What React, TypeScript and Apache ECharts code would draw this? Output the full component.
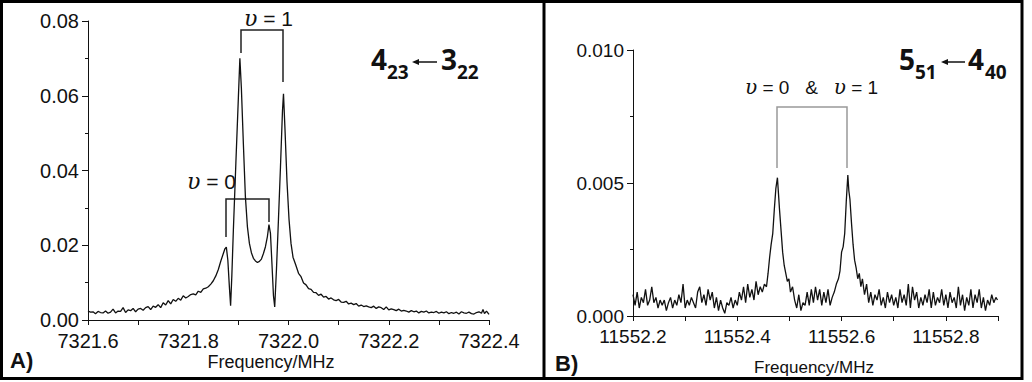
import React, { useEffect, useRef } from "react";
import * as echarts from "echarts";

// Panel A: 4(23) <- 3(22), intensity vs frequency (MHz)
const spectrumA: [number, number][] = [
  [7321.600, 0.0024], [7321.605, 0.0021], [7321.610, 0.0022], [7321.615, 0.0017], [7321.620, 0.0023],
  [7321.625, 0.0020], [7321.630, 0.0019], [7321.635, 0.0024], [7321.640, 0.0018], [7321.645, 0.0021],
  [7321.650, 0.0029], [7321.655, 0.0019], [7321.660, 0.0024], [7321.665, 0.0023], [7321.670, 0.0033],
  [7321.675, 0.0020], [7321.680, 0.0027], [7321.685, 0.0025], [7321.690, 0.0031], [7321.695, 0.0022],
  [7321.700, 0.0029], [7321.705, 0.0031], [7321.710, 0.0026], [7321.715, 0.0033], [7321.720, 0.0036],
  [7321.725, 0.0028], [7321.730, 0.0037], [7321.735, 0.0034], [7321.740, 0.0041], [7321.745, 0.0033],
  [7321.750, 0.0046], [7321.755, 0.0040], [7321.760, 0.0052], [7321.765, 0.0043], [7321.770, 0.0055],
  [7321.775, 0.0050], [7321.780, 0.0058], [7321.785, 0.0053], [7321.790, 0.0065], [7321.795, 0.0059],
  [7321.800, 0.0063], [7321.805, 0.0068], [7321.810, 0.0070], [7321.815, 0.0067], [7321.820, 0.0077],
  [7321.825, 0.0074], [7321.830, 0.0083], [7321.835, 0.0085], [7321.840, 0.0089], [7321.845, 0.0096],
  [7321.850, 0.0105], [7321.855, 0.0118], [7321.860, 0.0135], [7321.865, 0.0158], [7321.870, 0.0178],
  [7321.873, 0.0190], [7321.876, 0.0195], [7321.879, 0.0160], [7321.882, 0.0090], [7321.8845, 0.0038],
  [7321.887, 0.0120], [7321.890, 0.0240], [7321.895, 0.0420], [7321.900, 0.0595], [7321.903, 0.0700],
  [7321.906, 0.0620], [7321.910, 0.0470], [7321.914, 0.0330], [7321.918, 0.0250], [7321.922, 0.0205],
  [7321.926, 0.0180], [7321.930, 0.0165], [7321.934, 0.0158], [7321.938, 0.0154], [7321.942, 0.0157],
  [7321.946, 0.0163], [7321.950, 0.0178], [7321.954, 0.0196], [7321.958, 0.0224], [7321.961, 0.0255],
  [7321.964, 0.0232], [7321.967, 0.0150], [7321.970, 0.0065], [7321.9725, 0.0035], [7321.976, 0.0136],
  [7321.980, 0.0270], [7321.984, 0.0410], [7321.988, 0.0560], [7321.990, 0.0605], [7321.993, 0.0510],
  [7321.997, 0.0370], [7322.001, 0.0270], [7322.005, 0.0205], [7322.009, 0.0168], [7322.014, 0.0149],
  [7322.020, 0.0125], [7322.025, 0.0116], [7322.030, 0.0099], [7322.035, 0.0094], [7322.040, 0.0084],
  [7322.045, 0.0082], [7322.050, 0.0074], [7322.055, 0.0073], [7322.060, 0.0066], [7322.065, 0.0069],
  [7322.070, 0.0061], [7322.075, 0.0063], [7322.080, 0.0056], [7322.085, 0.0059], [7322.090, 0.0054],
  [7322.095, 0.0052], [7322.100, 0.0055], [7322.105, 0.0048], [7322.110, 0.0047], [7322.115, 0.0050],
  [7322.120, 0.0043], [7322.125, 0.0045], [7322.130, 0.0041], [7322.135, 0.0044], [7322.140, 0.0037],
  [7322.145, 0.0040], [7322.150, 0.0036], [7322.155, 0.0038], [7322.160, 0.0035], [7322.165, 0.0033],
  [7322.170, 0.0037], [7322.175, 0.0031], [7322.180, 0.0035], [7322.185, 0.0033], [7322.190, 0.0028],
  [7322.195, 0.0035], [7322.200, 0.0027], [7322.205, 0.0030], [7322.210, 0.0028], [7322.215, 0.0025],
  [7322.220, 0.0029], [7322.225, 0.0024], [7322.230, 0.0026], [7322.235, 0.0024], [7322.240, 0.0021],
  [7322.245, 0.0025], [7322.250, 0.0022], [7322.255, 0.0024], [7322.260, 0.0019], [7322.265, 0.0023],
  [7322.270, 0.0021], [7322.275, 0.0024], [7322.280, 0.0019], [7322.285, 0.0021], [7322.290, 0.0020],
  [7322.295, 0.0023], [7322.300, 0.0018], [7322.305, 0.0021], [7322.310, 0.0019], [7322.315, 0.0022],
  [7322.320, 0.0017], [7322.325, 0.0020], [7322.330, 0.0018], [7322.335, 0.0021], [7322.340, 0.0016],
  [7322.345, 0.0022], [7322.350, 0.0019], [7322.355, 0.0018], [7322.360, 0.0021], [7322.365, 0.0017],
  [7322.370, 0.0016], [7322.375, 0.0020], [7322.380, 0.0022], [7322.385, 0.0018], [7322.388, 0.0028],
  [7322.391, 0.0017], [7322.395, 0.0024], [7322.400, 0.0015],
];

// Panel B: 5(51) <- 4(40)
const spectrumB: [number, number][] = [
  [11552.200, 0.0008], [11552.204, 0.0004], [11552.208, 0.0009], [11552.212, 0.0003], [11552.216, 0.0007],
  [11552.220, 0.0005], [11552.224, 0.0010], [11552.228, 0.0004], [11552.232, 0.0006], [11552.236, 0.0011],
  [11552.240, 0.0005], [11552.244, 0.0007], [11552.248, 0.0003], [11552.252, 0.0006], [11552.256, 0.0004],
  [11552.260, 0.0006], [11552.264, 0.0002], [11552.268, 0.0005], [11552.272, 0.0007], [11552.276, 0.0003],
  [11552.280, 0.0006], [11552.284, 0.0004], [11552.288, 0.0008], [11552.292, 0.0005], [11552.296, 0.0012],
  [11552.300, 0.0003], [11552.304, 0.0006], [11552.308, 0.0004], [11552.312, 0.0007], [11552.316, 0.0005],
  [11552.320, 0.0003], [11552.324, 0.0009], [11552.328, 0.0011], [11552.332, 0.0005], [11552.336, 0.0008],
  [11552.340, 0.0004], [11552.344, 0.0010], [11552.348, 0.0006], [11552.352, 0.0009], [11552.356, 0.0003],
  [11552.360, 0.0007], [11552.364, 0.0002], [11552.368, 0.0006], [11552.372, 0.0003], [11552.376, 0.0001],
  [11552.380, 0.0005], [11552.384, 0.0004], [11552.388, 0.0007], [11552.392, 0.0003], [11552.396, 0.0006],
  [11552.400, 0.0004], [11552.404, 0.0009], [11552.408, 0.0006], [11552.412, 0.0011], [11552.416, 0.0005],
  [11552.420, 0.0012], [11552.424, 0.0007], [11552.428, 0.0010], [11552.432, 0.0006], [11552.436, 0.0013],
  [11552.440, 0.0008], [11552.444, 0.0011], [11552.448, 0.0009], [11552.452, 0.0012], [11552.456, 0.0011],
  [11552.459, 0.0016], [11552.462, 0.0022], [11552.465, 0.0027], [11552.468, 0.0031], [11552.471, 0.0040],
  [11552.474, 0.0048], [11552.477, 0.0052], [11552.479, 0.0046], [11552.481, 0.0040], [11552.484, 0.0032],
  [11552.487, 0.0024], [11552.490, 0.0019], [11552.493, 0.0016], [11552.496, 0.0013], [11552.499, 0.0014],
  [11552.502, 0.0009], [11552.506, 0.0011], [11552.510, 0.0006], [11552.514, 0.0003], [11552.518, 0.0008],
  [11552.522, 0.0002], [11552.526, 0.0005], [11552.530, 0.0004], [11552.534, 0.0009], [11552.538, 0.0004],
  [11552.542, 0.0010], [11552.546, 0.0005], [11552.550, 0.0011], [11552.554, 0.0006], [11552.558, 0.0010],
  [11552.562, 0.0004], [11552.566, 0.0009], [11552.570, 0.0005], [11552.574, 0.0010], [11552.578, 0.0004],
  [11552.582, 0.0007], [11552.586, 0.0009], [11552.590, 0.0012], [11552.594, 0.0014], [11552.597, 0.0017],
  [11552.600, 0.0024], [11552.603, 0.0026], [11552.606, 0.0031], [11552.609, 0.0043], [11552.612, 0.0053],
  [11552.614, 0.0047], [11552.616, 0.0044], [11552.619, 0.0035], [11552.622, 0.0027], [11552.625, 0.0021],
  [11552.628, 0.0018], [11552.631, 0.0014], [11552.634, 0.0016], [11552.637, 0.0011], [11552.640, 0.0014],
  [11552.644, 0.0008], [11552.648, 0.0012], [11552.652, 0.0005], [11552.656, 0.0009], [11552.660, 0.0004],
  [11552.664, 0.0008], [11552.668, 0.0006], [11552.672, 0.0010], [11552.676, 0.0004], [11552.680, 0.0007],
  [11552.684, 0.0003], [11552.688, 0.0009], [11552.692, 0.0005], [11552.696, 0.0008], [11552.700, 0.0004],
  [11552.704, 0.0007], [11552.708, 0.0003], [11552.712, 0.0010], [11552.716, 0.0005], [11552.720, 0.0008],
  [11552.724, 0.0004], [11552.728, 0.0012], [11552.732, 0.0003], [11552.736, 0.0011], [11552.740, 0.0006],
  [11552.744, 0.0009], [11552.748, 0.0003], [11552.752, 0.0007], [11552.756, 0.0004], [11552.760, 0.0008],
  [11552.764, 0.0005], [11552.768, 0.0010], [11552.772, 0.0003], [11552.776, 0.0009], [11552.780, 0.0004],
  [11552.784, 0.0007], [11552.788, 0.0005], [11552.792, 0.0010], [11552.796, 0.0004], [11552.800, 0.0008],
  [11552.804, 0.0003], [11552.808, 0.0009], [11552.812, 0.0005], [11552.816, 0.0007], [11552.820, 0.0003],
  [11552.824, 0.0011], [11552.828, 0.0004], [11552.832, 0.0008], [11552.836, 0.0002], [11552.840, 0.0007],
  [11552.844, 0.0004], [11552.848, 0.0010], [11552.852, 0.0003], [11552.856, 0.0008], [11552.860, 0.0005],
  [11552.864, 0.0010], [11552.868, 0.0003], [11552.872, 0.0007], [11552.876, 0.0002], [11552.880, 0.0006],
  [11552.884, 0.0004], [11552.888, 0.0008], [11552.892, 0.0005], [11552.896, 0.0007], [11552.899, 0.0006],
];

const axisRangeA = { xMin: 7321.6, xMax: 7322.4, xStep: 0.1, yMin: 0, yMax: 0.08, yStep: 0.02 };
const axisRangeB = { xMin: 11552.2, xMax: 11552.9, xStep: 0.1, yMin: 0, yMax: 0.01, yStep: 0.005 };

const titleA = { main1: "4", sub1: "23", main2: "3", sub2: "22" };
const titleB = { main1: "5", sub1: "51", main2: "4", sub2: "40" };

const SANS = "'Liberation Sans', Arial, sans-serif";
const BOLD = "'Open Sans', 'Liberation Sans', sans-serif";
const INK = "#111";

function upsilon(text: string, x: number, y: number, size: number) {
  return {
    type: "text",
    x,
    y,
    style: {
      text: text,
      rich: {
        g: { fontFamily: "'DejaVu Serif', serif", fontStyle: "italic", fontSize: size + 1, fill: INK, color: INK },
        t: { fontFamily: SANS, fontSize: size, fill: INK, color: INK },
      },
      align: "left",
      verticalAlign: "middle",
      textAlign: "left",
      textVerticalAlign: "middle",
    },
  };
}

function plain(text: string, x: number, y: number, font: string, size: number, weight: string, align = "left") {
  return {
    type: "text",
    x,
    y,
    style: {
      text,
      fontFamily: font,
      fontSize: size,
      fontWeight: weight,
      fill: INK,
      align,
      verticalAlign: "middle",
      textAlign: align,
      textVerticalAlign: "middle",
    },
  };
}

function transition(t: typeof titleA, xs: number[], y: number) {
  const [x1, x2, xa0, xa1, x3, x4] = xs;
  return [
    plain(t.main1, x1, y, BOLD, 28, "bold"),
    plain(t.sub1, x2, y + 13, BOLD, 19, "bold"),
    { type: "line", shape: { x1: xa0 + 4, y1: y + 3, x2: xa1, y2: y + 3 }, style: { stroke: INK, lineWidth: 1.5 } },
    { type: "polygon", shape: { points: [[xa0, y + 3], [xa0 + 7, y], [xa0 + 7, y + 6]] }, style: { fill: INK } },
    plain(t.main2, x3, y, BOLD, 28, "bold"),
    plain(t.sub2, x4, y + 13, BOLD, 19, "bold"),
  ];
}

function evenTenth(v: number) {
  return Math.round(v * 10) % 2 === 0;
}

export default function App() {
  const ref = useRef<HTMLDivElement>(null);
  useEffect(() => {
    document.body.style.margin = "0";
    if (!ref.current) return;
    const chart = echarts.init(ref.current, undefined, { renderer: "svg" });
    const axisLine = { show: true, onZero: false, lineStyle: { color: INK, width: 1 } };
    chart.setOption({
      animation: false,
      backgroundColor: "#fff",
      grid: [
        { left: 88, top: 21, width: 401, height: 299 },
        { left: 633, top: 50, width: 365, height: 266 },
      ],
      xAxis: [
        {
          gridIndex: 0, type: "value", min: axisRangeA.xMin, max: axisRangeA.xMax, interval: axisRangeA.xStep,
          axisLine, splitLine: { show: false },
          axisTick: { show: true, length: 5, lineStyle: { color: INK } },
          axisLabel: {
            color: INK, fontFamily: SANS, fontSize: 20, margin: 11,
            formatter: (v: number) => (evenTenth(v) ? v.toFixed(1) : ""),
          },
        },
        {
          gridIndex: 1, type: "value", min: axisRangeB.xMin, max: axisRangeB.xMax, interval: axisRangeB.xStep,
          axisLine, splitLine: { show: false },
          axisTick: { show: true, length: 5, lineStyle: { color: INK } },
          axisLabel: {
            color: INK, fontFamily: SANS, fontSize: 19, margin: 11,
            formatter: (v: number) => (evenTenth(v) ? v.toFixed(1) : ""),
          },
        },
      ],
      yAxis: [
        {
          gridIndex: 0, type: "value", min: axisRangeA.yMin, max: axisRangeA.yMax, interval: axisRangeA.yStep,
          axisLine, splitLine: { show: false },
          axisTick: { show: true, length: 6, lineStyle: { color: INK } },
          minorTick: { show: true, splitNumber: 2, length: 3, lineStyle: { color: INK } },
          axisLabel: { color: INK, fontFamily: SANS, fontSize: 20, margin: 9, formatter: (v: number) => v.toFixed(2) },
        },
        {
          gridIndex: 1, type: "value", min: axisRangeB.yMin, max: axisRangeB.yMax, interval: axisRangeB.yStep,
          axisLine, splitLine: { show: false },
          axisTick: { show: true, length: 6, lineStyle: { color: INK } },
          minorTick: { show: true, splitNumber: 2, length: 3, lineStyle: { color: INK } },
          axisLabel: { color: INK, fontFamily: SANS, fontSize: 19, margin: 9, formatter: (v: number) => v.toFixed(3) },
        },
      ],
      series: [
        {
          type: "line", xAxisIndex: 0, yAxisIndex: 0, data: spectrumA, showSymbol: false, symbol: "none",
          lineStyle: { color: INK, width: 1.3 }, silent: true,
        },
        {
          type: "line", xAxisIndex: 1, yAxisIndex: 1, data: spectrumB, showSymbol: false, symbol: "none",
          lineStyle: { color: INK, width: 1.3 }, silent: true,
        },
      ],
      graphic: [
        { type: "rect", shape: { x: 1.5, y: 1.5, width: 1020.5, height: 377 }, style: { fill: "none", stroke: "#000", lineWidth: 3 } },
        { type: "line", shape: { x1: 544, y1: 0, x2: 544, y2: 380 }, style: { stroke: "#000", lineWidth: 3 } },
        plain("A)", 10, 360, SANS, 22, "bold"),
        plain("B)", 555, 363, SANS, 22, "bold"),
        plain("Frequency/MHz", 271, 362, SANS, 18, "normal", "center"),
        plain("Frequency/MHz", 814, 367, SANS, 17, "normal", "center"),
        ...transition(titleA, [371, 387, 412, 437, 441, 457], 59),
        ...transition(titleB, [899, 915, 941, 965, 968, 985], 59),
        upsilon("{g|υ}{t| = 1}", 244, 18, 21),
        upsilon("{g|υ}{t| = 0}", 187, 181, 21),
        upsilon("{g|υ}{t| = 0   &   }{g|υ}{t| = 1}", 745, 87, 19),
        { type: "polyline", shape: { points: [[241, 53], [241, 30], [283, 30], [283, 82]] }, style: { stroke: "#222", lineWidth: 1.5, fill: "none" } },
        { type: "polyline", shape: { points: [[226, 237], [226, 199], [269, 199], [269, 222]] }, style: { stroke: "#222", lineWidth: 1.5, fill: "none" } },
        { type: "polyline", shape: { points: [[777, 168], [777, 107], [847, 107], [847, 168]] }, style: { stroke: "#999", lineWidth: 1.5, fill: "none" } },
      ],
    });
    return () => chart.dispose();
  }, []);
  return <div ref={ref} style={{ width: 1032, height: 382, background: "#fff" }} />;
}
